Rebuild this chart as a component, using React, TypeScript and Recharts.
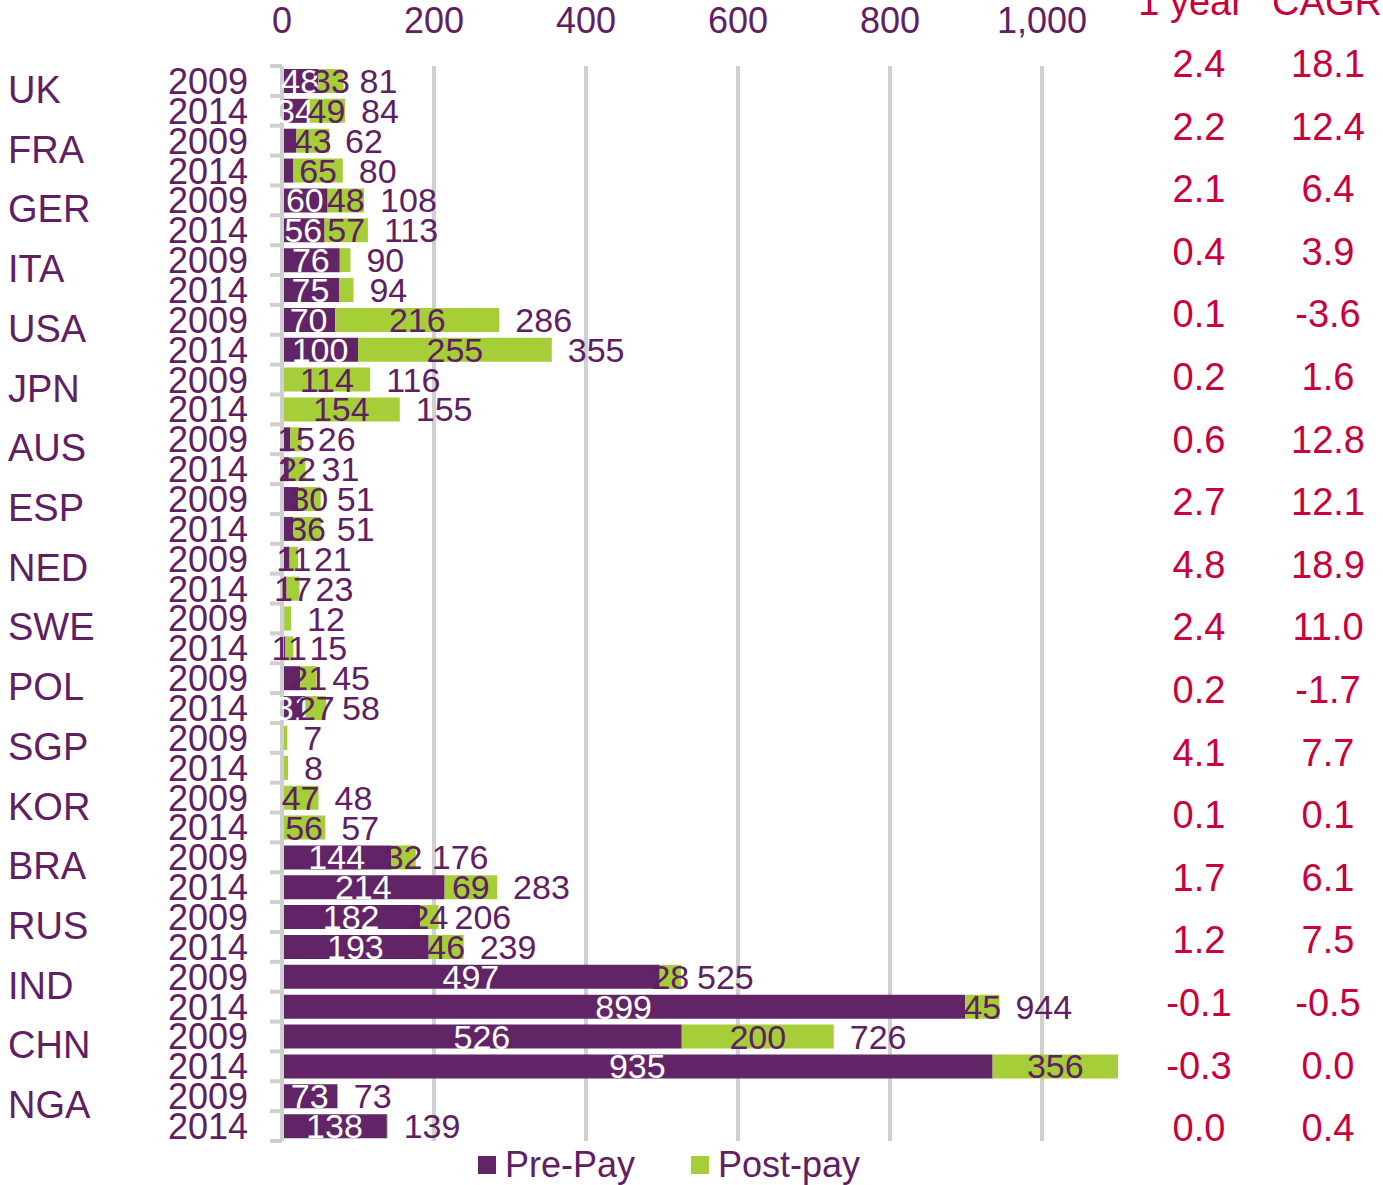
import { BarChart, Bar, XAxis, YAxis, CartesianGrid, LabelList } from "recharts"

const countries = ["UK", "FRA", "GER", "ITA", "USA", "JPN", "AUS", "ESP", "NED", "SWE", "POL", "SGP", "KOR", "BRA", "RUS", "IND", "CHN", "NGA"]
const years = ["2009", "2014"]

// one entry per row: country x year (2009, 2014)
const prePay = [48, 34, 19, 15, 60, 56, 76, 75, 70, 100, 2, 1, 11, 9, 21, 15, 10, 6, 3, 4, 24, 31, 1, 1, 1, 1, 144, 214, 182, 193, 497, 899, 526, 935, 73, 138]
const postPay = [33, 49, 43, 65, 48, 57, 14, 19, 216, 255, 114, 154, 15, 22, 30, 36, 11, 17, 9, 11, 21, 27, 6, 7, 47, 56, 32, 69, 24, 46, 28, 45, 200, 356, 0.4, 1]
const totals = [81, 84, 62, 80, 108, 113, 90, 94, 286, 355, 116, 155, 26, 31, 51, 51, 21, 23, 12, 15, 45, 58, 7, 8, 48, 57, 176, 283, 206, 239, 525, 944, 726, 1291, 73, 139]

// labels that the original leaves out
const hiddenPreLabels = [2, 3, 10, 11, 12, 13, 14, 15, 16, 17, 18, 19, 20, 22, 23, 24, 25]
const hiddenPostLabels = [6, 7, 18, 22, 23, 34, 35]

const oneYear = ["2.4", "2.2", "2.1", "0.4", "0.1", "0.2", "0.6", "2.7", "4.8", "2.4", "0.2", "4.1", "0.1", "1.7", "1.2", "-0.1", "-0.3", "0.0"]
const cagr = ["18.1", "12.4", "6.4", "3.9", "-3.6", "1.6", "12.8", "12.1", "18.9", "11.0", "-1.7", "7.7", "0.1", "6.1", "7.5", "-0.5", "0.0", "0.4"]

const xTicks = [0, 200, 400, 600, 800, 1000]

const PURPLE = "#612466"
const TEXT = "#5E2063"
const GREEN = "#A6CE39"
const RED = "#C8003C"
const FONT = "'Liberation Sans', Arial, sans-serif"

const W = 1383
const H = 1185
const M = { top: 26, right: 265, bottom: 44, left: 0 }
const X_AXIS_H = 40
const Y_AXIS_W = 282
const PLOT_RIGHT = W - M.right
const ROW_H = (H - M.top - X_AXIS_H - M.bottom) / prePay.length

const data = prePay.map((pre, i) => ({
  row: `${countries[Math.floor(i / 2)]}-${years[i % 2]}`,
  pre,
  post: postPay[i],
  total: totals[i],
}))

const XTick = ({ x, payload }: any) => (
  <text x={x} y={33} textAnchor="middle" fill={TEXT} fontSize={36} fontFamily={FONT}>
    {payload.value.toLocaleString("en-US")}
  </text>
)

const YTick = ({ y, index }: any) => {
  const isFirst = index % 2 === 0
  const last = index === prePay.length - 1
  return (
    <g>
      <line x1={270} x2={282} y1={y - ROW_H / 2} y2={y - ROW_H / 2} stroke="#cfcfcf" strokeWidth={4} />
      {last && <line x1={270} x2={282} y1={y + ROW_H / 2} y2={y + ROW_H / 2} stroke="#cfcfcf" strokeWidth={4} />}
      <text x={248} y={y + 13} textAnchor="end" fill={TEXT} fontSize={36} fontFamily={FONT}>
        {years[index % 2]}
      </text>
      {isFirst && (
        <text x={8} y={y + 8 + 14} textAnchor="start" fill={TEXT} fontSize={38} fontFamily={FONT}>
          {countries[index / 2]}
        </text>
      )}
    </g>
  )
}

const preLabel = (p: any) => {
  if (hiddenPreLabels.includes(p.index)) return null
  return (
    <text x={p.x + p.width / 2} y={p.y + p.height / 2 + 12} textAnchor="middle" fill="#fff" fontSize={34} fontFamily={FONT}>
      {p.value}
    </text>
  )
}

const postLabel = (p: any) => {
  if (hiddenPostLabels.includes(p.index)) return null
  const end = Math.min(p.x + p.width, PLOT_RIGHT)
  return (
    <text x={(p.x + end) / 2} y={p.y + p.height / 2 + 12} textAnchor="middle" fill={TEXT} fontSize={34} fontFamily={FONT}>
      {p.value}
    </text>
  )
}

const totalLabel = (p: any) => {
  const t = totals[p.index]
  if (t > 1100) return null
  return (
    <text x={p.x + p.width + 16} y={p.y + p.height / 2 + 12} textAnchor="start" fill={TEXT} fontSize={34} fontFamily={FONT}>
      {t}
    </text>
  )
}

export default function App() {
  return (
    <div style={{ position: "relative", width: W, height: H, fontFamily: FONT }}>
      <style>{"body{margin:0}"}</style>
      <BarChart width={W} height={H} data={data} layout="vertical" margin={M} barSize={24}>
        <CartesianGrid horizontal={false} stroke="#d0d0d0" strokeWidth={4} syncWithTicks />
        <XAxis
          type="number"
          orientation="top"
          domain={[0, 1100]}
          ticks={xTicks}
          allowDataOverflow
          axisLine={false}
          tickLine={false}
          height={X_AXIS_H}
          tick={<XTick />}
        />
        <YAxis
          type="category"
          dataKey="row"
          width={Y_AXIS_W}
          interval={0}
          axisLine={{ stroke: "#cfcfcf", strokeWidth: 4 }}
          tickLine={false}
          tick={<YTick />}
        />
        <Bar dataKey="pre" stackId="a" fill={PURPLE} isAnimationActive={false}>
          <LabelList dataKey="pre" content={preLabel} />
        </Bar>
        <Bar dataKey="post" stackId="a" fill={GREEN} isAnimationActive={false}>
          <LabelList dataKey="post" content={postLabel} />
          <LabelList dataKey="total" content={totalLabel} />
        </Bar>
      </BarChart>

      <svg width={W} height={H} style={{ position: "absolute", left: 0, top: 0, pointerEvents: "none" }}>
        <text x={1191} y={15} textAnchor="middle" fill={RED} fontSize={38} fontFamily={FONT}>1 year</text>
        <text x={1327} y={15} textAnchor="middle" fill={RED} fontSize={38} fontFamily={FONT}>CAGR</text>
        {oneYear.map((v, i) => (
          <text key={"o" + i} x={1199} y={63 + i * 62.6 + 14} textAnchor="middle" fill={RED} fontSize={38} fontFamily={FONT}>
            {v}
          </text>
        ))}
        {cagr.map((v, i) => (
          <text key={"c" + i} x={1328} y={63 + i * 62.6 + 14} textAnchor="middle" fill={RED} fontSize={38} fontFamily={FONT}>
            {v}
          </text>
        ))}
      </svg>

      <div style={{ position: "absolute", top: 1144, left: 478, display: "flex", alignItems: "center", fontSize: 36, color: TEXT }}>
        <span style={{ width: 18, height: 18, background: PURPLE, display: "inline-block", marginRight: 9 }} />
        <span>Pre-Pay</span>
        <span style={{ width: 18, height: 18, background: GREEN, display: "inline-block", marginLeft: 56, marginRight: 9 }} />
        <span>Post-pay</span>
      </div>
    </div>
  )
}
